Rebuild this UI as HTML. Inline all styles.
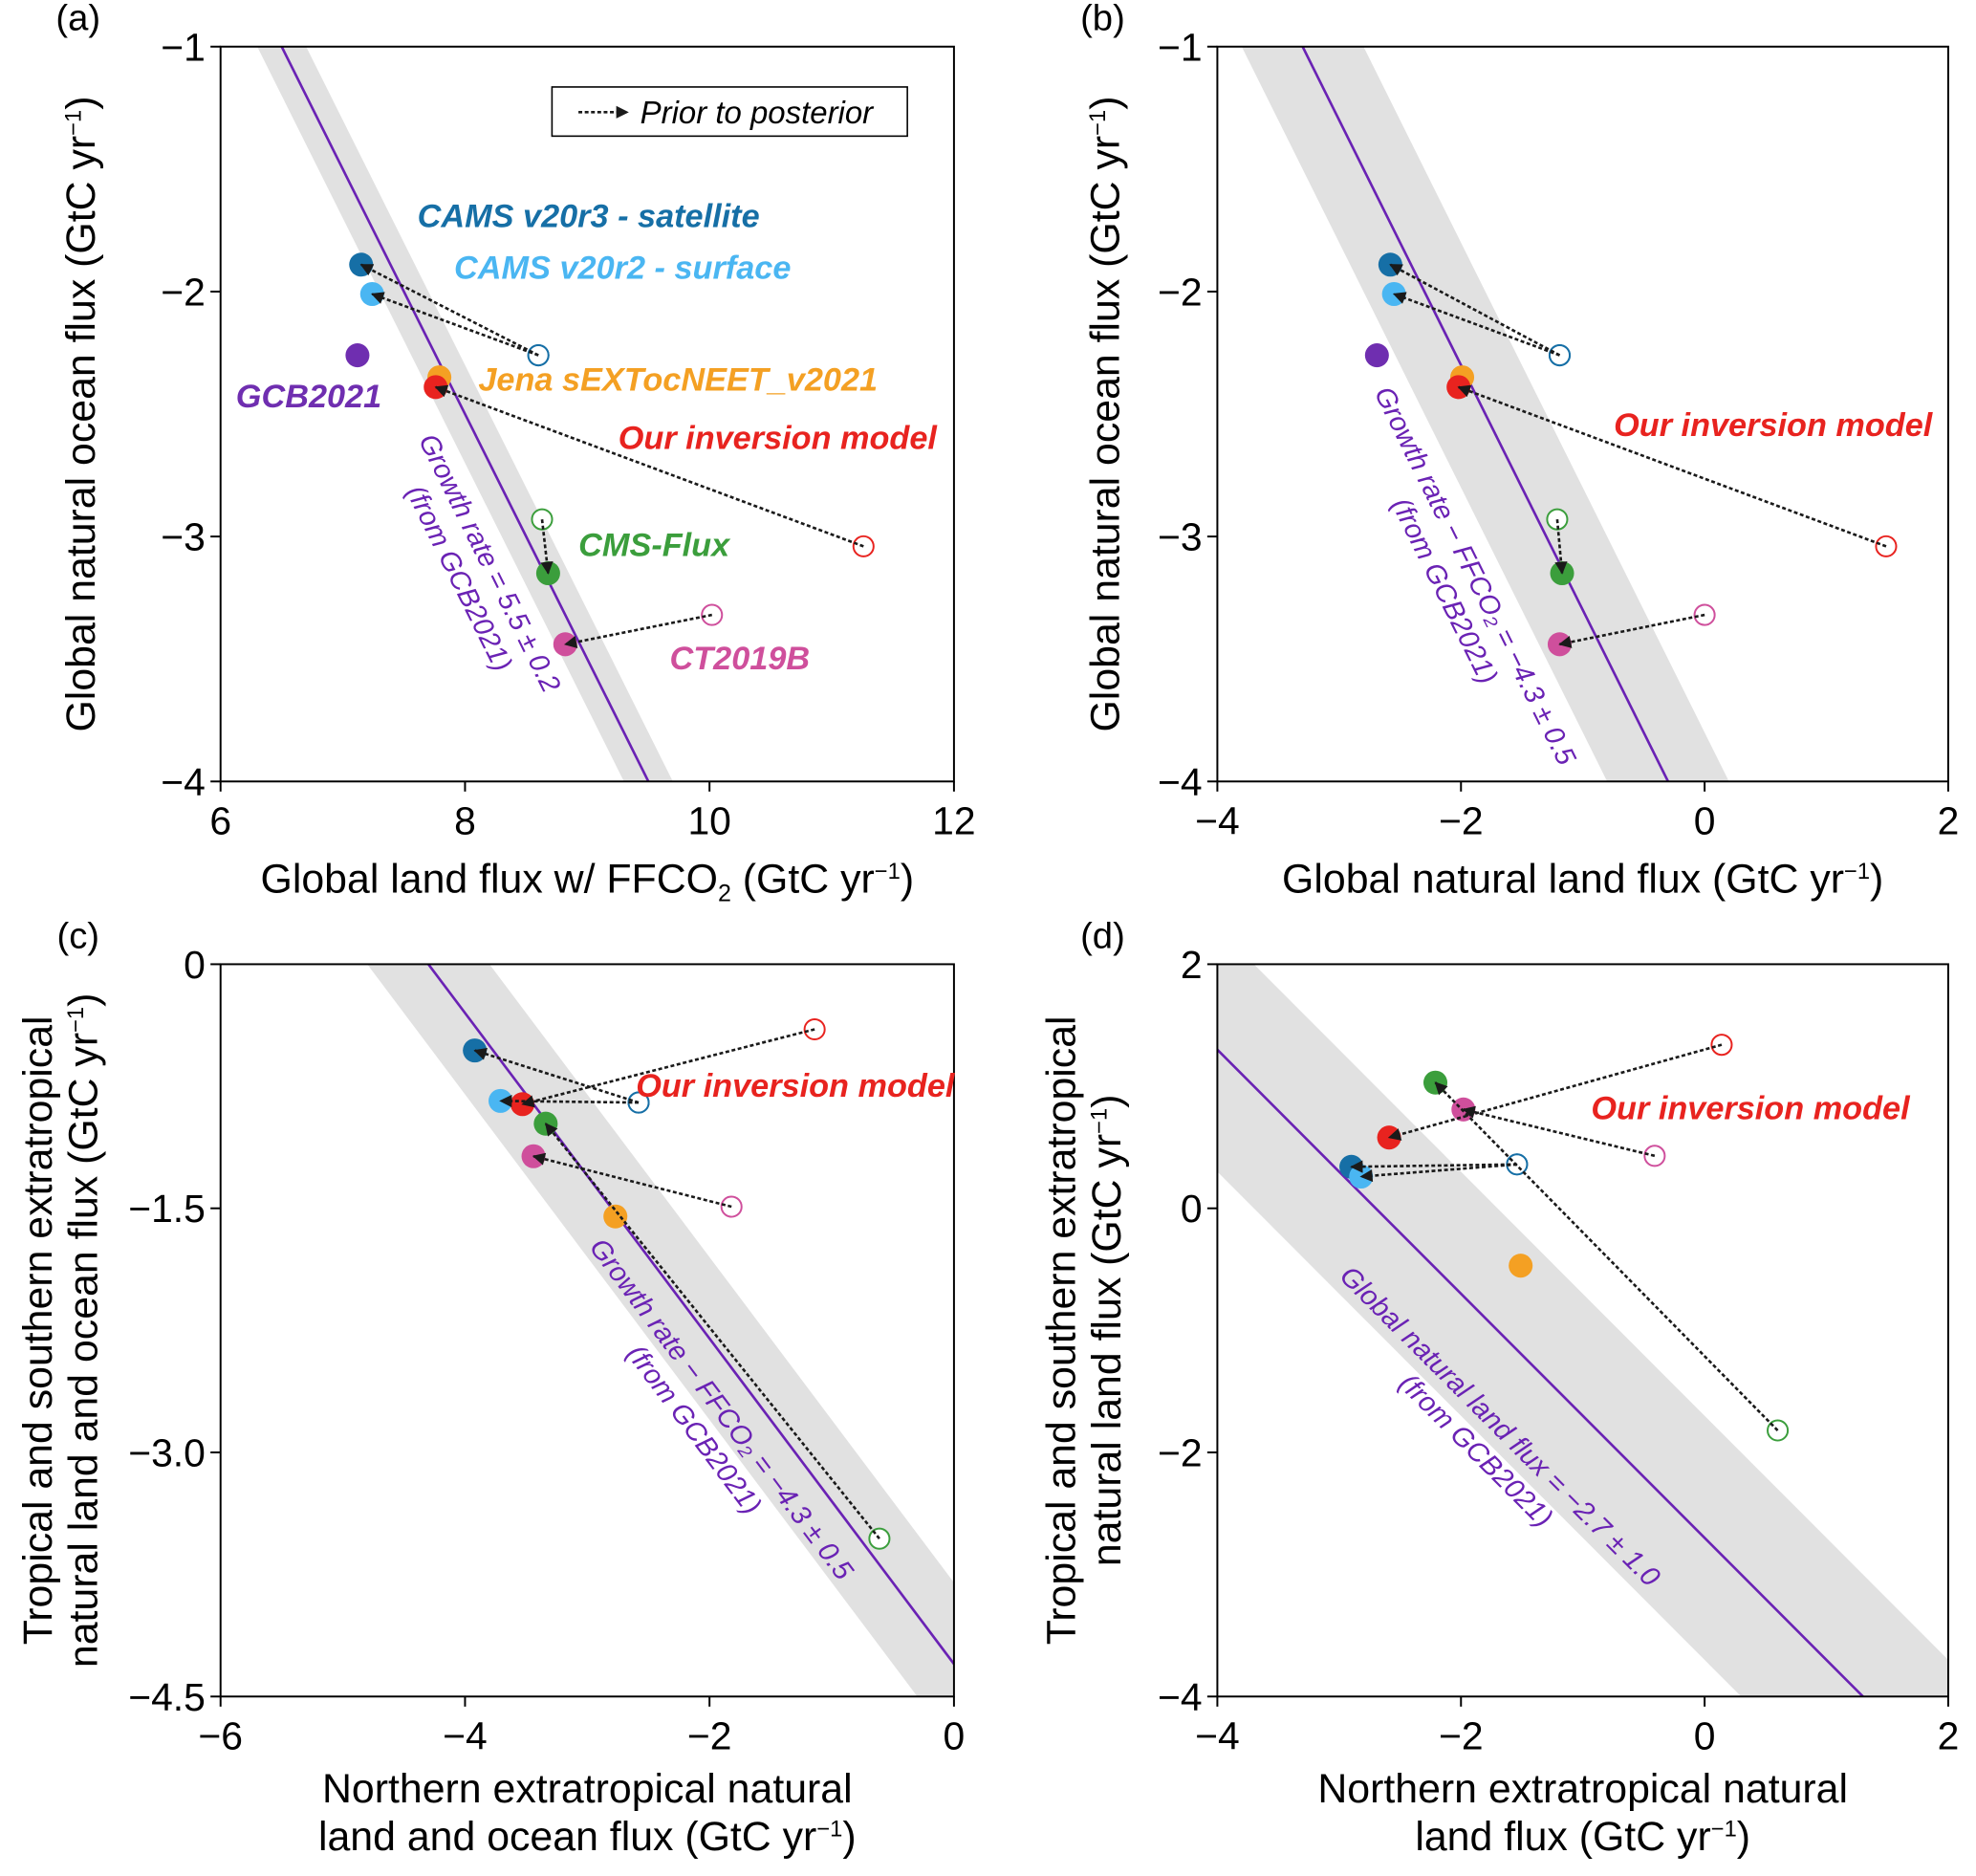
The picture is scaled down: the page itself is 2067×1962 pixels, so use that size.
<!DOCTYPE html>
<html><head><meta charset="utf-8"><style>
html,body{margin:0;padding:0;background:#fff;overflow:hidden;width:2067px;height:1962px;}
svg{display:block;font-family:"Liberation Sans",Arial,sans-serif;}
</style></head><body>
<svg id="fig" width="2067" height="1962" viewBox="0 0 1568 1488.4" xmlns="http://www.w3.org/2000/svg">
<defs>
<marker id="ah" viewBox="0 0 10 10" refX="9" refY="5" markerWidth="11" markerHeight="10" orient="auto" markerUnits="userSpaceOnUse"><path d="M0,0 L10,5 L0,10 z" fill="#1a1a1a"/></marker>
</defs>
</svg>
<script>
// ---- data ----
const models = ["CAMS v20r3 - satellite","CAMS v20r2 - surface","GCB2021","Jena sEXTocNEET_v2021","Our inversion model","CMS-Flux","CT2019B"];
const colors = ["#166fa6","#4ab6f2","#6f2eb0","#f4a023","#e8231f","#3b9e3c","#cf4f9c"];
const postAx = [7.15,7.24,7.12,7.79,7.76,8.68,8.82];
const postAy = [-1.89,-2.01,-2.26,-2.35,-2.39,-3.15,-3.44];
const postBx = [-2.58,-2.55,-2.69,-1.99,-2.02,-1.17,-1.19];
const postBy = [-1.89,-2.01,-2.26,-2.35,-2.39,-3.15,-3.44];
const postCx = [-3.92,-3.71,null,-2.77,-3.53,-3.34,-3.44];
const postCy = [-0.53,-0.84,null,-1.55,-0.86,-0.98,-1.18];
const postDx = [-2.90,-2.82,null,-1.51,-2.59,-2.21,-1.98];
const postDy = [0.34,0.26,null,-0.47,0.58,1.03,0.81];
const priorAx = [8.60,8.60,null,null,11.26,8.63,10.02];
const priorAy = [-2.26,-2.26,null,null,-3.04,-2.93,-3.32];
const priorBx = [-1.19,-1.19,null,null,1.49,-1.21,0.00];
const priorBy = [-2.26,-2.26,null,null,-3.04,-2.93,-3.32];
const priorCx = [-2.58,-2.58,null,null,-1.14,-0.61,-1.82];
const priorCy = [-0.85,-0.85,null,null,-0.40,-3.53,-1.49];
const priorDx = [-1.54,-1.54,null,null,0.14,0.60,-0.41];
const priorDy = [0.36,0.36,null,null,1.34,-1.82,0.43];
const constraintC = [5.5,-4.3,-4.3,-2.7];
const constraintW = [0.2,0.5,0.5,1.0];
const xTicksA=[6,8,10,12], yTicksA=[-1,-2,-3,-4];
const xTicksB=[-4,-2,0,2], yTicksB=[-1,-2,-3,-4];
const xTicksC=[-6,-4,-2,0], yTicksC=[0,-1.5,-3.0,-4.5];
const xTicksD=[-4,-2,0,2], yTicksD=[2,0,-2,-4];
const yTickLabelsC=["0","−1.5","−3.0","−4.5"];

const NS="http://www.w3.org/2000/svg";
const svg=document.getElementById('fig');
function mk(tag,attrs,parent){const e=document.createElementNS(NS,tag);for(const k in attrs)e.setAttribute(k,attrs[k]);(parent||svg).appendChild(e);return e;}
function fmt(v){return (v<0?"−":"")+Math.abs(v);}
const SUP="yr<tspan dy='-11' font-size='18'>−1</tspan><tspan dy='11'>)</tspan>";

const panels=[
 {id:"a",xd:[6,12],yd:[-4,-1],px:[175,757],py:[37,620],px_:postAx,py_:postAy,qx:priorAx,qy:priorAy,xt:xTicksA,yt:yTicksA,
  letter:[62,24],ylab:["Global natural ocean flux (GtC "+SUP],ylx:[75],xlab:["Global land flux w/ FFCO<tspan dy='7' font-size='19'>2</tspan><tspan dy='-7'> (GtC </tspan>"+SUP],xly:[708],
  clab:["Growth rate = 5.5 ± 0.2","(from GCB2021)"],cpos:[378,452],cang:63.6},
 {id:"b",xd:[-4,2],yd:[-4,-1],px:[966,1546],py:[37,620],px_:postBx,py_:postBy,qx:priorBx,qy:priorBy,xt:xTicksB,yt:yTicksB,
  letter:[875,24],ylab:["Global natural ocean flux (GtC "+SUP],ylx:[888],xlab:["Global natural land flux (GtC "+SUP],xly:[708],
  clab:["Growth rate − FFCO₂ = −4.3 ± 0.5","(from GCB2021)"],cpos:[1160,462],cang:63.6},
 {id:"c",xd:[-6,0],yd:[-4.5,0],px:[175,757],py:[765,1346],px_:postCx,py_:postCy,qx:priorCx,qy:priorCy,xt:xTicksC,yt:yTicksC,ytl:yTickLabelsC,
  letter:[62,752],ylab:["Tropical and southern extratropical","natural land and ocean flux (GtC "+SUP],ylx:[41,77],xlab:["Northern extratropical natural","land and ocean flux (GtC "+SUP],xly:[1430,1468],
  clab:["Growth rate − FFCO₂ = −4.3 ± 0.5","(from GCB2021)"],cpos:[563,1125],cang:53.1},
 {id:"d",xd:[-4,2],yd:[-4,2],px:[966,1546],py:[765,1346],px_:postDx,py_:postDy,qx:priorDx,qy:priorDy,xt:xTicksD,yt:yTicksD,
  letter:[875,752],ylab:["Tropical and southern extratropical","natural land flux (GtC "+SUP],ylx:[853,889],xlab:["Northern extratropical natural","land flux (GtC "+SUP],xly:[1430,1468],
  clab:["Global natural land flux = −2.7 ± 1.0","(from GCB2021)"],cpos:[1182,1140],cang:45}
];

panels.forEach((p,pi)=>{
 const g=mk('g',{});
 
 
 const X=v=>p.px[0]+(v-p.xd[0])/(p.xd[1]-p.xd[0])*(p.px[1]-p.px[0]);
 const Y=v=>p.py[1]-(v-p.yd[0])/(p.yd[1]-p.yd[0])*(p.py[1]-p.py[0]);
 const cid='clip'+p.id;
 const cp=mk('clipPath',{id:cid},g);
 mk('rect',{x:p.px[0],y:p.py[0],width:p.px[1]-p.px[0],height:p.py[1]-p.py[0]},cp);
 const c=constraintC[pi], w=constraintW[pi];
 const xa=p.xd[0]-20, xb=p.xd[1]+20;
 const band=mk('polygon',{points:[[X(xa),Y(c+w-xa)],[X(xb),Y(c+w-xb)],[X(xb),Y(c-w-xb)],[X(xa),Y(c-w-xa)]].map(q=>q.join(',')).join(' '),fill:'#e1e1e1','clip-path':`url(#${cid})`},g);
 
 
 const ln=mk('line',{x1:X(xa),y1:Y(c-xa),x2:X(xb),y2:Y(c-xb),stroke:'#6a22b4','stroke-width':2,'clip-path':`url(#${cid})`},g);
 
 
 const fr=mk('rect',{x:p.px[0],y:p.py[0],width:p.px[1]-p.px[0],height:p.py[1]-p.py[0],fill:'none',stroke:'#000','stroke-width':1.5},g);
 
 
 p.xt.forEach(v=>{
  mk('line',{x1:X(v),x2:X(v),y1:p.py[1],y2:p.py[1]+8,stroke:'#000','stroke-width':1.5},g);
  const t=mk('text',{x:X(v),y:p.py[1]+42,'text-anchor':'middle','font-size':31},g);t.textContent=fmt(v);
  
  
 });
 p.yt.forEach((v,i)=>{
  mk('line',{x1:p.px[0]-8,x2:p.px[0],y1:Y(v),y2:Y(v),stroke:'#000','stroke-width':1.5},g);
  const t=mk('text',{x:p.px[0]-12,y:Y(v)+11,'text-anchor':'end','font-size':31},g);t.textContent=p.ytl?p.ytl[i]:fmt(v);
  
  
 });
 const lt=mk('text',{x:p.letter[0],y:p.letter[1],'text-anchor':'middle','font-size':29},g);lt.textContent='('+p.id+')';
 
 
 const ycen=(p.py[0]+p.py[1])/2, xcen=(p.px[0]+p.px[1])/2;
 p.ylab.forEach((s,i)=>{const t=mk('text',{x:0,y:0,'text-anchor':'middle','font-size':32.5,transform:`translate(${p.ylx[i]},${ycen}) rotate(-90)`},g);t.innerHTML=s;
  
  });
 p.xlab.forEach((s,i)=>{const t=mk('text',{x:xcen,y:p.xly[i],'text-anchor':'middle','font-size':32.5},g);t.innerHTML=s;
  
  });
 p.clab.forEach((s,i)=>{const t=mk('text',{x:0,y:(i-0.5)*27+9,'text-anchor':'middle','font-size':22,'font-style':'italic',fill:'#6a22b4',transform:`translate(${p.cpos[0]},${p.cpos[1]}) rotate(${p.cang})`},g);t.textContent=s;
  
  });
 models.forEach((m,i)=>{
  if(p.qx[i]==null) return;
  const o=mk('circle',{cx:X(p.qx[i]),cy:Y(p.qy[i]),r:8,fill:'#fff',stroke:colors[i===1?0:i],'stroke-width':1.5},g);
  
  
 });
 models.forEach((m,i)=>{
  if(p.px_[i]==null) return;
  const o=mk('circle',{cx:X(p.px_[i]),cy:Y(p.py_[i]),r:9.5,fill:colors[i]},g);
  
  
 });
 models.forEach((m,i)=>{
  if(p.qx[i]==null||p.px_[i]==null) return;
  const a=mk('line',{x1:X(p.qx[i]),y1:Y(p.qy[i]),x2:X(p.px_[i]),y2:Y(p.py_[i]),stroke:'#1a1a1a','stroke-width':2,'stroke-dasharray':'3,2','marker-end':'url(#ah)'},g);
  
  
 });
});

function lab(x,y,s,col,name){const t=mk('text',{x:x,y:y,'text-anchor':'middle','font-size':26,'font-weight':'bold','font-style':'italic',fill:col});t.textContent=s;
 
 }
lab(467,180,models[0],colors[0],'label-cams-satellite');
lab(494,221,models[1],colors[1],'label-cams-surface');
lab(245,323,models[2],colors[2],'label-gcb2021');
lab(538,310,models[3],colors[3],'label-jena');
lab(617,356,models[4],colors[4],'label-our-model-a');
lab(519,441,models[5],colors[5],'label-cms-flux');
lab(587,531,models[6],colors[6],'label-ct2019b');
lab(1407,346,models[4],colors[4],'label-our-model-b');
lab(631,870,models[4],colors[4],'label-our-model-c');
lab(1389,888,models[4],colors[4],'label-our-model-d');
const lg=mk('g',{});


mk('rect',{x:438,y:69,width:282,height:39,fill:'#fff',stroke:'#000','stroke-width':1.2},lg);
mk('line',{x1:459,y1:89,x2:498,y2:89,stroke:'#1a1a1a','stroke-width':2,'stroke-dasharray':'3,2','marker-end':'url(#ah)'},lg);
const lt=mk('text',{x:508,y:98,'font-size':25,'font-style':'italic'},lg);lt.textContent='Prior to posterior';


</script>
</body></html>
